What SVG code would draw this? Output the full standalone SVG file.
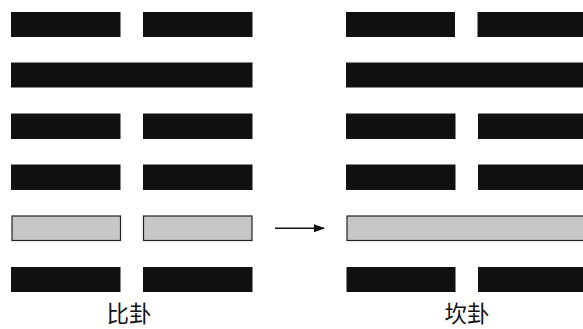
<svg xmlns="http://www.w3.org/2000/svg" width="583" height="329" viewBox="0 0 583 329">
<style>
.y{fill:#111}
.g{fill:#c6c6c6;stroke:#222;stroke-width:1.2}
.t{font-family:"Noto Sans CJK SC","Noto Sans CJK TC",sans-serif;font-size:22.5px;fill:#111;text-anchor:middle}
</style>
<defs>
<marker id="ah" markerWidth="11" markerHeight="8" refX="10" refY="4" orient="auto" markerUnits="userSpaceOnUse">
<path d="M0,0 L11,4 L0,8 Z" fill="#111"/>
</marker>
</defs>
<rect width="583" height="329" fill="#fff"/>
<g id="bi">
<rect class="y" x="11" y="12" width="109.5" height="25"/>
<rect class="y" x="143" y="12" width="109.5" height="25"/>
<rect class="y" x="11" y="62.5" width="241.5" height="25"/>
<rect class="y" x="11" y="113.5" width="109.5" height="25.5"/>
<rect class="y" x="143" y="113.5" width="109.5" height="25.5"/>
<rect class="y" x="11" y="164.5" width="109.5" height="25.5"/>
<rect class="y" x="143" y="164.5" width="109.5" height="25.5"/>
<rect class="g" x="12" y="216" width="108.5" height="24.5"/>
<rect class="g" x="143.5" y="216" width="108.5" height="24.5"/>
<rect class="y" x="11" y="267" width="109.5" height="25"/>
<rect class="y" x="143" y="267" width="109.5" height="25"/>
<text class="t" x="129" y="322">比卦</text>
</g>
<g id="kan">
<rect class="y" x="346" y="12" width="109" height="25"/>
<rect class="y" x="477.5" y="12" width="110" height="25"/>
<rect class="y" x="346" y="62.5" width="241.5" height="25"/>
<rect class="y" x="346" y="113.5" width="109.5" height="25.5"/>
<rect class="y" x="478" y="113.5" width="109.5" height="25.5"/>
<rect class="y" x="346" y="164.5" width="109.5" height="25.5"/>
<rect class="y" x="478" y="164.5" width="109.5" height="25.5"/>
<rect class="g" x="347" y="216" width="240" height="24.5"/>
<rect class="y" x="346.5" y="267" width="109" height="25"/>
<rect class="y" x="478" y="267" width="109.5" height="25"/>
<text class="t" x="467" y="322">坎卦</text>
</g>
<g id="connectors">
<line x1="275" y1="228.3" x2="324" y2="228.3" stroke="#111" stroke-width="1.5" marker-end="url(#ah)"/>
</g>
</svg>
